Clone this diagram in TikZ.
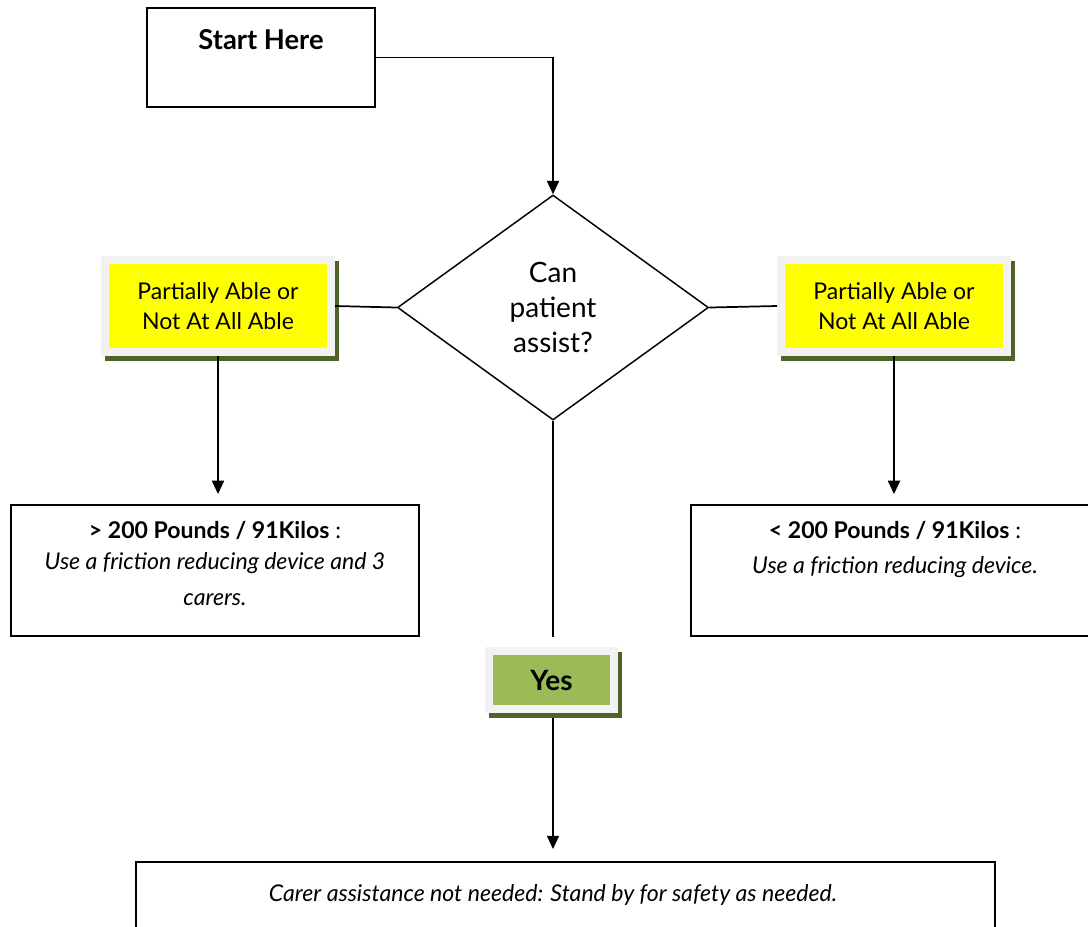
\documentclass[tikz,border=0pt]{standalone}
\usepackage{fontspec}
\setmainfont{Lato}
\usetikzlibrary{arrows.meta}
\usetikzlibrary{positioning}
\usetikzlibrary{shapes.geometric}
\usetikzlibrary{shadows}
\definecolor{ableyellow}{HTML}{FFFF00}
\definecolor{yesgreen}{HTML}{9BBB59}
\definecolor{framegray}{HTML}{F2F2F2}
\definecolor{shadeolive}{HTML}{4F6228}
\newcommand{\anode}[3]{\node(#1)[answer] at (#2) {#3}}
\newcommand{\wnode}[3]{\node(#1)[box,label={[boxtext]north:{#3}}] at (#2) {}}

\begin{document}
\begin{tikzpicture}[
        x=0.75pt, y=-0.75pt,
        >={Triangle[width=9pt,length=10pt]},
        every node/.style={font=\fontsize{17.3}{23}\selectfont},
        box/.style={rectangle,draw=black,line width=1.4pt,inner sep=0pt,
                    minimum width=306pt,minimum height=98.25pt},
        boxtext/.style={anchor=north,inner sep=0pt,yshift=-13pt,align=center},
        answer/.style={rectangle,draw=framegray,fill=ableyellow,line width=6pt,
                       minimum width=169.5pt,minimum height=69pt,inner sep=0pt,align=center,
                       drop shadow={shadow xshift=3pt,shadow yshift=-3.75pt,opacity=1,
                                    fill=shadeolive,draw=shadeolive,line width=6pt}},
        decision/.style={diamond,draw=black,line width=1.1pt,aspect=1.38,inner sep=0pt,
                         minimum width=233.25pt,minimum height=168.75pt,align=center,
                         font=\fontsize{21}{26}\selectfont},
        link/.style={line width=1.3pt}
      ]
      \path[use as bounding box,clip] (0,0) rectangle (1088,926);

      % Start box and the question
      \node(start)[box,minimum width=171pt,minimum height=74.25pt,
        label={[boxtext,yshift=-4pt,font=\bfseries\fontsize{20.5}{24}\selectfont]north:{Start Here}}]
        at (261,57.5) {};
      \node(q)[decision] at (553,307.5) {Can\\patient\\assist?};

      % Answers: left, right and yes
      \anode{partL}{218,306}{Partially Able or\\Not At All Able};
      \anode{partR}{894,306}{Partially Able or\\Not At All Able};
      \node(yes)[answer,fill=yesgreen,minimum width=93.75pt,minimum height=43.5pt,
        font=\bfseries\fontsize{21}{24}\selectfont] at (551.5,680) {Yes};

      % What to do
      \wnode{heavy}{215,570.5}{\textbf{> 200 Pounds / 91Kilos} :\\
        \itshape Use a friction reducing device and 3\\[4pt]\itshape carers.};
      \wnode{light}{895,570.5}{\textbf{< 200 Pounds / 91Kilos} :\\[3pt]
        \itshape Use a friction reducing device.};
      \node(none)[box,minimum width=644.25pt,
        label={[boxtext,yshift=-4pt,xshift=-9.4pt]north:{\itshape Carer assistance not needed: Stand by for safety as needed.}}]
        at (565.5,927.5) {};

      % Connectors
      \draw[link,->] (start.east) -| (q.north);
      \draw[link] (q.west) -- (partL.east);
      \draw[link] (q.east) -- (partR.west);
      \draw[link,->,shorten >=7.5pt] (partL.south) -- (partL.south |- heavy.north);
      \draw[link,->,shorten >=7.5pt] (partR.south) -- (partR.south |- light.north);
      \draw[link,shorten >=7.5pt] (q.south) -- (q.south |- yes.north);
      \draw[link,->,shorten <=4pt,shorten >=9pt] (q.south |- yes.south) -- (q.south |- none.north);
    \end{tikzpicture}
\end{document}
